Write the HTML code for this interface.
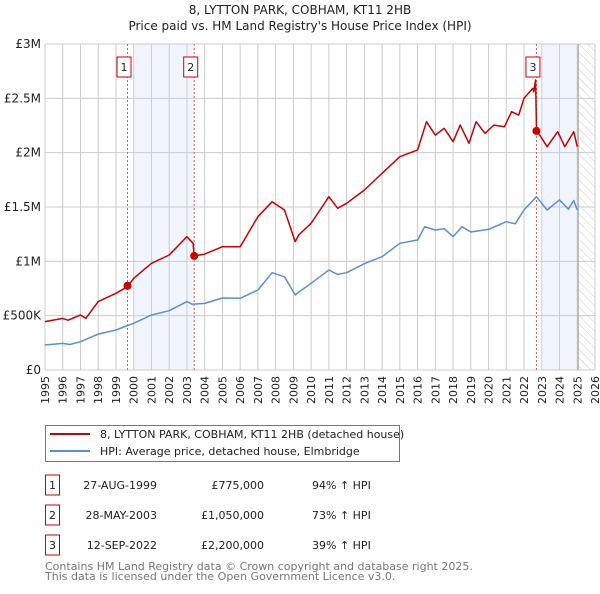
<!DOCTYPE html>
<html><head><meta charset="utf-8"><style>
body{margin:0;background:#fff;width:600px;height:590px;overflow:hidden;font-family:"DejaVu Sans","Liberation Sans",sans-serif}
svg text{font-family:"DejaVu Sans","Liberation Sans",sans-serif}
</style></head><body>
<svg width="600" height="590" viewBox="0 0 600 590">
<defs><pattern id="hatch" width="6" height="6" patternUnits="userSpaceOnUse" patternTransform="rotate(-45)"><line x1="0" y1="0" x2="0" y2="6" stroke="#ccc" stroke-width="1"/></pattern></defs>
<text x="300" y="14" text-anchor="middle" font-size="12" fill="#222">8, LYTTON PARK, COBHAM, KT11 2HB</text>
<text x="300" y="30" text-anchor="middle" font-size="12" fill="#222">Price paid vs. HM Land Registry's House Price Index (HPI)</text>
<g id="plot"></g>
<g>
<rect x="45.5" y="425.5" width="354" height="36" fill="#fff" stroke="#777"/>
<line x1="50" y1="434" x2="90" y2="434" stroke="#cc0000" stroke-width="2"/>
<text x="100" y="438" font-size="11" fill="#222">8, LYTTON PARK, COBHAM, KT11 2HB (detached house)</text>
<line x1="50" y1="451" x2="90" y2="451" stroke="#5b8fd4" stroke-width="2"/>
<text x="100" y="455" font-size="11" fill="#222">HPI: Average price, detached house, Elmbridge</text>
</g>
<g id="table" font-size="11" fill="#222"></g>
<text x="45" y="570" font-size="11" fill="#777">Contains HM Land Registry data © Crown copyright and database right 2025.</text>
<text x="45" y="580" font-size="11" fill="#777">This data is licensed under the Open Government Licence v3.0.</text>
</svg>
<script>
const hpiYears=[1995,1996,1996.4,1997,1998,1999,2000,2001,2002,2003,2003.3,2004,2005,2006,2007,2007.8,2008.5,2009.1,2009.3,2010,2010.5,2011,2011.5,2012,2013,2014,2015,2016,2016.4,2017,2017.5,2018,2018.5,2019,2020,2021,2021.5,2022,2022.7,2023.3,2024,2024.5,2024.8,2025];
const hpiValues=[230,245,235,260,330,368,430,506,546,629,605,613,663,660,736,895,858,690,717,798,859,920,880,895,978,1043,1166,1196,1319,1288,1300,1227,1319,1270,1294,1365,1345,1472,1595,1472,1565,1480,1560,1472];
const priceYears=[1995,1996,1996.3,1997,1997.3,1998,1999,1999.65,2000,2001,2002,2003,2003.35,2003.41,2004,2005,2006,2007,2007.8,2008.5,2009.1,2009.3,2010,2010.5,2011,2011.5,2012,2013,2014,2015,2016,2016.5,2017,2017.5,2018,2018.4,2018.9,2019.3,2019.8,2020.3,2020.9,2021.3,2021.7,2022,2022.5,2022.55,2022.65,2022.7,2023.3,2023.9,2024.3,2024.8,2025];
const priceValues=[445,475,458,506,475,629,706,767,844,982,1058,1227,1166,1049,1067,1135,1135,1411,1549,1472,1181,1242,1350,1472,1595,1488,1534,1656,1810,1963,2025,2285,2162,2224,2101,2254,2086,2285,2178,2254,2239,2377,2346,2500,2592,2560,2669,2209,2055,2193,2055,2193,2055];
const saleYears=[1999.65,2003.41,2022.7];
const saleValues=[775,1050,2200];
const saleLabels=["1","2","3"];
const saleDates=["27-AUG-1999","28-MAY-2003","12-SEP-2022"];
const salePrices=["£775,000","£1,050,000","£2,200,000"];
const salePcts=["94% ↑ HPI","73% ↑ HPI","39% ↑ HPI"];
const yTicks=[0,500,1000,1500,2000,2500,3000];
const yTickLabels=["£0","£500K","£1M","£1.5M","£2M","£2.5M","£3M"];
const xTicks=[1995,1996,1997,1998,1999,2000,2001,2002,2003,2004,2005,2006,2007,2008,2009,2010,2011,2012,2013,2014,2015,2016,2017,2018,2019,2020,2021,2022,2023,2024,2025,2026];

const NS="http://www.w3.org/2000/svg";
const X0=45,X1=595,Y0=370,Y1=44;
const xs=y=>X0+(y-1995)/(2026-1995)*(X1-X0);
const ys=v=>Y0-v/3000*(Y0-Y1);
const plot=document.getElementById('plot');
function mk(tag,attrs,parent){const e=document.createElementNS(NS,tag);for(const k in attrs)e.setAttribute(k,attrs[k]);(parent||plot).appendChild(e);return e;}

let s=mk('rect',{x:xs(2000),y:Y1,width:xs(saleYears[1])-xs(2000),height:Y0-Y1,fill:'#eef3fc',opacity:0.8});


s=mk('rect',{x:xs(2023),y:Y1,width:xs(2025.05)-xs(2023),height:Y0-Y1,fill:'#eef3fc',opacity:0.8});


s=mk('rect',{x:xs(2025.05),y:Y1,width:X1-xs(2025.05),height:Y0-Y1,fill:'url(#hatch)'});



xTicks.forEach(t=>{
 const l=mk('line',{x1:xs(t),x2:xs(t),y1:Y1,y2:Y0,stroke:'#ccc','stroke-width':1});
 
 
 const tx=mk('text',{transform:`translate(${xs(t)+4},${Y0+6}) rotate(-90)`,'text-anchor':'end','font-size':11,fill:'#222'});
 tx.textContent=t;
 
 
});
yTicks.forEach((t,i)=>{
 const l=mk('line',{x1:X0,x2:X1,y1:ys(t),y2:ys(t),stroke:'#ccc','stroke-width':1});
 
 
 const tx=mk('text',{x:X0-4,y:ys(t)+4,'text-anchor':'end','font-size':12,fill:'#222'});
 tx.textContent=yTickLabels[i];
 
 
});
let vl=mk('line',{x1:xs(2025.05),x2:xs(2025.05),y1:Y1,y2:Y0,stroke:'#999','stroke-width':1});



saleYears.forEach((y,i)=>{
 const l=mk('line',{x1:xs(y),x2:xs(y),y1:Y1,y2:Y0,stroke:'#ee5555','stroke-width':1,'stroke-dasharray':'2,2'});
 
 
});

function pathOf(xa,va){return xa.map((x,i)=>(i?'L':'M')+xs(x).toFixed(1)+','+ys(va[i]).toFixed(1)).join('');}
const hp=mk('path',{d:pathOf(hpiYears,hpiValues),fill:'none',stroke:'#5b8fd4','stroke-width':1.5,'stroke-linejoin':'round'});


const pp=mk('path',{d:pathOf(priceYears,priceValues),fill:'none',stroke:'#cc0000','stroke-width':1.5,'stroke-linejoin':'round'});



saleYears.forEach((y,i)=>{
 const c=mk('circle',{cx:xs(y),cy:ys(saleValues[i]),r:4,fill:'#cc0000'});
 
 
 const g=mk('g',{});
 
 
 const bx=xs(y)-3.5;
 mk('rect',{x:bx-7,y:57,width:14,height:20,fill:'#fff',stroke:'#cc0000'},g);
 const t=mk('text',{x:bx,y:71,'text-anchor':'middle','font-size':11,fill:'#222'},g);
 t.textContent=saleLabels[i];
});

const tb=document.getElementById('table');
saleLabels.forEach((lab,i)=>{
 const cy=485+i*30;
 const g=mk('g',{},tb);
 
 
 mk('rect',{x:45.5,y:cy-10,width:14,height:20,fill:'#fff',stroke:'#cc0000'},g);
 let t=mk('text',{x:52.5,y:cy+4,'text-anchor':'middle'},g);t.textContent=lab;
 t=mk('text',{x:157,y:cy+4,'text-anchor':'end'},g);t.textContent=saleDates[i];
 t=mk('text',{x:264,y:cy+4,'text-anchor':'end'},g);t.textContent=salePrices[i];
 t=mk('text',{x:312,y:cy+4},g);t.textContent=salePcts[i];
});
</script>
</body></html>
